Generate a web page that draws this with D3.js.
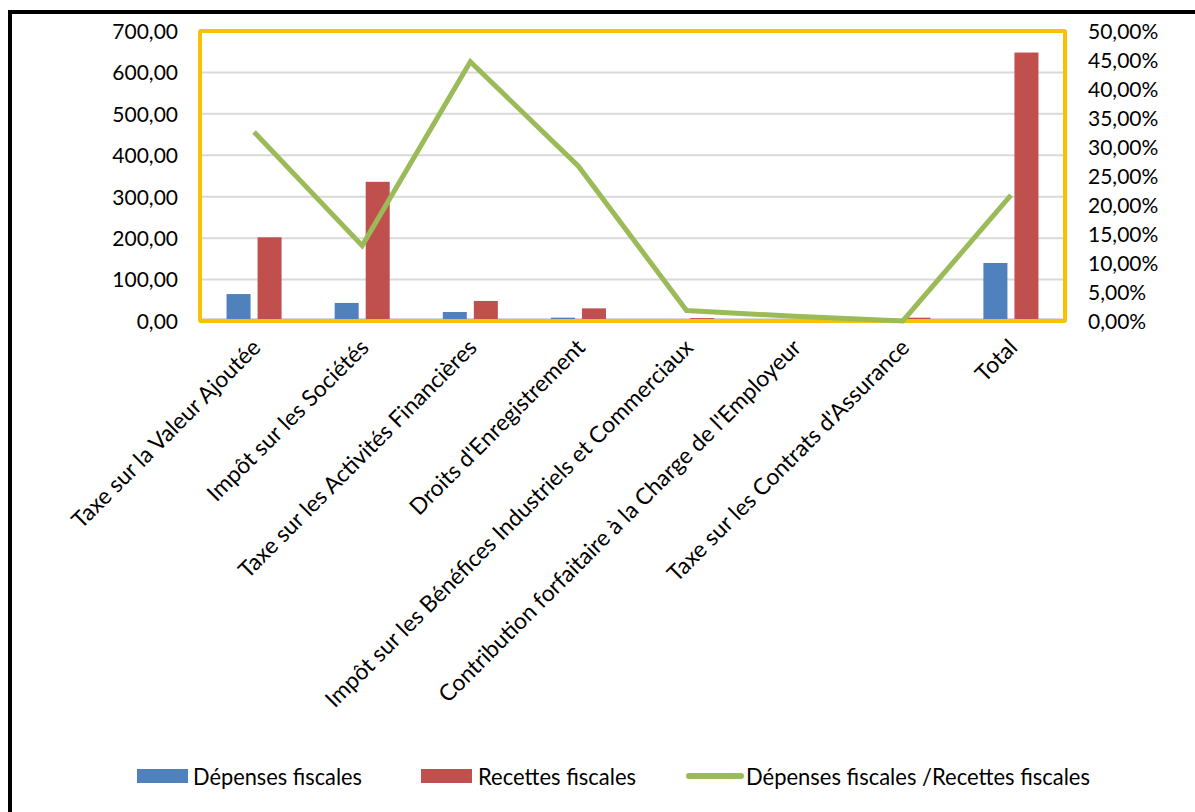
<!DOCTYPE html>
<html>
<head>
<meta charset="utf-8">
<script src="https://cdn.jsdelivr.net/npm/d3@7"></script>
<style>
  html, body { margin: 0; padding: 0; background: #ffffff; }
  svg { display: block; }
  text { font-family: Lato, "Open Sans", "Liberation Sans", sans-serif; fill: #000; }
</style>
</head>
<body>
<svg id="chart" width="1195" height="812"></svg>
<script>
const categories = [
  "Taxe sur la Valeur Ajoutée",
  "Impôt sur les Sociétés",
  "Taxe sur les Activités Financières",
  "Droits d'Enregistrement",
  "Impôt sur les Bénéfices Industriels et Commerciaux",
  "Contribution forfaitaire à la Charge de l'Employeur",
  "Taxe sur les Contrats d'Assurance",
  "Total"
];
const depenses = [65, 43.6, 21.8, 8.1, 0.5, 1.0, 0.3, 140];
const recettes = [202, 336, 48.4, 30.5, 7, 14, 8, 648];
const ratio = [0.326, 0.130, 0.447, 0.267, 0.018, 0.008, 0.000, 0.217];
const leftTicks = [0, 100, 200, 300, 400, 500, 600, 700];
const rightTicks = [0, 0.05, 0.10, 0.15, 0.20, 0.25, 0.30, 0.35, 0.40, 0.45, 0.50];
const seriesNames = ["Dépenses fiscales", "Recettes fiscales", "Dépenses fiscales /Recettes fiscales"];
const colors = ["#4F81BD", "#C0504D", "#9BBB59"];

const svg = d3.select("#chart");
const plot = { left: 200, right: 1065, top: 31, bottom: 321 };

// outer black frame (left and top edges visible)
svg.append("path")
  .attr("d", `M10,812 L10,12 L1195,12`)
  .attr("fill", "none").attr("stroke", "#000").attr("stroke-width", 4);

const x = d3.scaleBand().domain(categories).range([plot.left, plot.right]).padding(0);
const x1 = d3.scaleBand().domain(["dep", "rec"]).range([0, x.bandwidth()])
  .paddingInner(0.226).paddingOuter(0.855);
const yL = d3.scaleLinear().domain([0, 700]).range([plot.bottom, plot.top]);
const yR = d3.scaleLinear().domain([0, 0.5]).range([plot.bottom, plot.top]);

// gridlines
svg.append("g").selectAll("line").data(leftTicks.filter(d => d > 0 && d < 700)).join("line")
  .attr("x1", plot.left).attr("x2", plot.right)
  .attr("y1", d => yL(d)).attr("y2", d => yL(d))
  .attr("stroke", "#D9D9D9").attr("stroke-width", 2);
svg.append("line")
  .attr("x1", plot.left).attr("x2", plot.right)
  .attr("y1", yL(0) - 2).attr("y2", yL(0) - 2)
  .attr("stroke", "#D9D9D9").attr("stroke-width", 2);

// bars
const gBars = svg.append("g");
gBars.selectAll("rect.dep").data(categories).join("rect")
  .attr("class", "dep")
  .attr("x", d => x(d) + x1("dep"))
  .attr("width", x1.bandwidth())
  .attr("y", (d, i) => yL(depenses[i]))
  .attr("height", (d, i) => yL(0) - yL(depenses[i]))
  .attr("fill", colors[0]);
gBars.selectAll("rect.rec").data(categories).join("rect")
  .attr("class", "rec")
  .attr("x", d => x(d) + x1("rec"))
  .attr("width", x1.bandwidth())
  .attr("y", (d, i) => yL(recettes[i]))
  .attr("height", (d, i) => yL(0) - yL(recettes[i]))
  .attr("fill", colors[1]);

// yellow plot border
svg.append("rect")
  .attr("x", plot.left).attr("y", plot.top)
  .attr("width", plot.right - plot.left).attr("height", plot.bottom - plot.top)
  .attr("fill", "none").attr("stroke", "#F7C300").attr("stroke-width", 4)
  .attr("rx", 1);

// ratio line
const line = d3.line()
  .x((d, i) => x(categories[i]) + x.bandwidth() / 2)
  .y(d => yR(d));
svg.append("path").datum(ratio)
  .attr("d", line)
  .attr("fill", "none").attr("stroke", colors[2])
  .attr("stroke-width", 5).attr("stroke-linejoin", "miter");

// left axis
const axL = d3.axisLeft(yL).tickValues(leftTicks).tickSize(0).tickPadding(0)
  .tickFormat(d => d3.format(".2f")(d).replace(".", ","));
const gL = svg.append("g").attr("transform", `translate(178,0)`).call(axL);
gL.select(".domain").remove();
gL.selectAll("text").attr("font-size", 21).attr("dy", "0.35em").attr("font-family", "Lato");

// right axis
const axR = d3.axisRight(yR).tickValues(rightTicks).tickSize(0).tickPadding(0)
  .tickFormat(d => d3.format(".2f")(d * 100).replace(".", ",") + "%");
const gR = svg.append("g").attr("transform", `translate(1088,0)`).call(axR);
gR.select(".domain").remove();
gR.selectAll("text").attr("font-size", 21).attr("dy", "0.35em").attr("font-family", "Lato");

// category labels
const axB = d3.axisBottom(x).tickSize(0).tickPadding(0);
const gB = svg.append("g").call(axB);
gB.select(".domain").remove();
gB.selectAll(".tick").attr("transform", d => `translate(${x(d) + x.bandwidth() / 2 + 8},349)`);
gB.selectAll("text")
  .attr("y", 0).attr("dy", 0)
  .attr("font-size", 22.8).attr("font-family", "Lato")
  .attr("text-anchor", "end")
  .attr("transform", "rotate(-45)");

// legend
const legend = svg.append("g");
const legendItems = [
  { name: seriesNames[0], type: "rect", sx: 137, tx: 193, tw: 169, color: colors[0] },
  { name: seriesNames[1], type: "rect", sx: 421, tx: 478, tw: 158, color: colors[1] },
  { name: seriesNames[2], type: "line", sx: 686, tx: 746, tw: 344, color: colors[2] }
];
legendItems.forEach(it => {
  if (it.type === "rect") {
    legend.append("rect").attr("x", it.sx).attr("y", 769).attr("width", 51).attr("height", 14).attr("fill", it.color);
  } else {
    legend.append("line").attr("x1", it.sx + 3).attr("x2", it.sx + 55).attr("y1", 776).attr("y2", 776)
      .attr("stroke", it.color).attr("stroke-width", 6).attr("stroke-linecap", "round");
  }
  legend.append("text").attr("x", it.tx).attr("y", 785)
    .attr("font-size", 23)
    .attr("textLength", it.tw).attr("lengthAdjust", "spacingAndGlyphs")
    .text(it.name);
});
</script>
</body>
</html>
